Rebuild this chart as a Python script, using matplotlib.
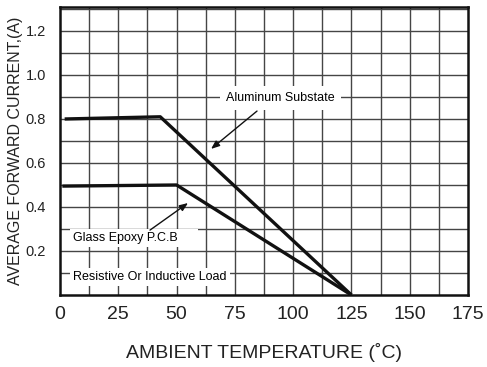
import matplotlib
matplotlib.use("Agg")
import matplotlib.pyplot as plt
import numpy as np

plt.rcParams['font.family'] = ['Liberation Sans', 'DejaVu Sans']

# Data
alu_x = [2, 43, 125]
alu_y = [0.80, 0.81, 0.0]
glass_x = [1, 50, 125]
glass_y = [0.495, 0.50, 0.0]
xticks = [0, 25, 50, 75, 100, 125, 150, 175]
yticks = [0.2, 0.4, 0.6, 0.8, 1.0, 1.2]
ytick_labels = ["0.2", "0.4", "0.6", "0.8", "1.0", "1.2"]

fig = plt.figure(figsize=(4.87, 3.67), dpi=100)
ax = fig.add_axes([60/487, 1-295/367, 408/487, 288/367])
ax.set_xlim(0, 175)
ax.set_ylim(0, 1.309)

# grid
for gx in np.arange(12.5, 175, 12.5):
    ax.axvline(gx, color='#454545', lw=1.0, zorder=1)
for gy in np.arange(0.1, 1.31, 0.1):
    ax.axhline(gy, color='#454545', lw=1.0, zorder=1)

ax.plot(alu_x, alu_y, color='#111111', lw=2.4, zorder=4, solid_capstyle='butt')
ax.plot(glass_x, glass_y, color='#111111', lw=2.4, zorder=4, solid_capstyle='butt')

box = dict(boxstyle='square,pad=0.25', fc='white', ec='none')
ax.text(94.4, 0.895, "Aluminum Substate", fontsize=9, ha='center', va='center',
        bbox=dict(boxstyle='square,pad=0.5', fc='white', ec='none'), zorder=3)
ax.text(5.6, 0.259, "Glass Epoxy P.C.B     ", fontsize=9, ha='left', va='center',
        bbox=box, zorder=3)
ax.text(5.6, 0.082, "Resistive Or Inductive Load", fontsize=9, ha='left', va='center',
        bbox=box, zorder=3)

arrow = dict(arrowstyle='-|>,head_length=0.5,head_width=0.2', color='#111111', lw=1.0,
             shrinkA=0, shrinkB=0)
ax.annotate("", xy=(64.8, 0.664), xytext=(84.5, 0.836), arrowprops=arrow, zorder=5)
ax.annotate("", xy=(54.9, 0.418), xytext=(38.6, 0.295), arrowprops=arrow, zorder=5)

ax.set_xticks(xticks)
ax.set_xticklabels([str(v) for v in xticks], fontsize=14)
ax.set_yticks(yticks)
ax.set_yticklabels(ytick_labels, fontsize=10.5)
ax.tick_params(axis='both', length=0, colors='#222222')
ax.tick_params(axis='x', pad=8)
ax.tick_params(axis='y', pad=10)

for s in ax.spines.values():
    s.set_linewidth(1.8)
    s.set_color('#111111')
    s.set_zorder(6)

ax.set_xlabel("AMBIENT TEMPERATURE (\u02daC)", fontsize=14, color='#222222', labelpad=14)
ax.set_ylabel("AVERAGE FORWARD CURRENT,(A)", fontsize=11.5, color='#222222', labelpad=2)

fig.savefig("out.png", dpi=100)
